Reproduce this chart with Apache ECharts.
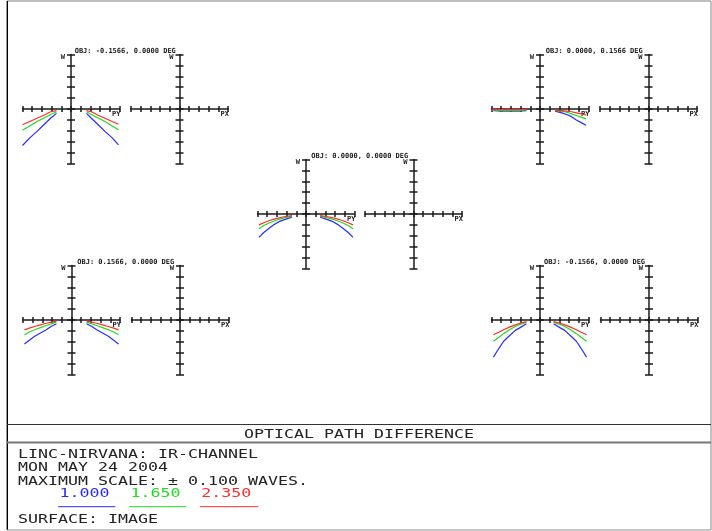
<!DOCTYPE html>
<html>
<head>
<meta charset="utf-8">
<script src="https://cdn.jsdelivr.net/npm/echarts@6/dist/echarts.min.js"></script>
<style>
  html, body { margin: 0; padding: 0; background: #fff; }
  #chart { width: 712px; height: 531px; }
</style>
</head>
<body>
<div id="chart"></div>
<script>
// OPD fans (PY pupil coordinate vs. wavefront error in waves).
// null splits the two branches on either side of the central obstruction.
const fieldTitles = [
  'OBJ: -0.1566, 0.0000 DEG',
  'OBJ: 0.0000, 0.1566 DEG',
  'OBJ: 0.0000, 0.0000 DEG',
  'OBJ: 0.1566, 0.0000 DEG',
  'OBJ: -0.1566, 0.0000 DEG'
];
const wavelengths = ['1.000', '1.650', '2.350'];
const maxScale = 0.1;

const f1Blue = [[-1.00,-0.067],[-0.85,-0.053],[-0.70,-0.041],[-0.55,-0.028],[-0.42,-0.017],[-0.30,-0.008], null,
                [0.32,-0.008],[0.42,-0.017],[0.55,-0.028],[0.70,-0.041],[0.85,-0.053],[0.98,-0.066]];
const f1Green = [[-1.00,-0.039],[-0.85,-0.031],[-0.70,-0.023],[-0.55,-0.016],[-0.42,-0.010],[-0.30,-0.005], null,
                 [0.32,-0.005],[0.42,-0.010],[0.55,-0.016],[0.70,-0.023],[0.85,-0.031],[0.98,-0.038]];
const f1Red = [[-1.00,-0.029],[-0.85,-0.023],[-0.70,-0.017],[-0.55,-0.011],[-0.42,-0.005],[-0.30,-0.003], null,
               [0.32,-0.003],[0.42,-0.005],[0.55,-0.011],[0.70,-0.017],[0.85,-0.023],[0.98,-0.028]];

const f2Blue = [[-1.00,0.004],[-0.95,-0.003],[-0.80,-0.004],[-0.60,-0.004],[-0.45,-0.004],[-0.28,-0.003], null,
                [0.31,-0.004],[0.45,-0.007],[0.55,-0.010],[0.65,-0.014],[0.75,-0.020],[0.85,-0.025],[0.95,-0.030]];
const f2Green = [[-0.98,-0.002],[-0.80,-0.003],[-0.60,-0.003],[-0.45,-0.003],[-0.28,-0.002], null,
                 [0.31,-0.003],[0.45,-0.004],[0.55,-0.006],[0.65,-0.009],[0.75,-0.012],[0.85,-0.015],[0.95,-0.018]];
const f2Red = [[-1.00,-0.001],[-0.80,-0.001],[-0.60,-0.001],[-0.45,-0.001],[-0.28,-0.001], null,
               [0.31,-0.002],[0.45,-0.003],[0.55,-0.004],[0.65,-0.005],[0.75,-0.007],[0.85,-0.009],[0.95,-0.011]];

const f3Blue = [[-0.97,-0.043],[-0.87,-0.034],[-0.76,-0.026],[-0.65,-0.019],[-0.53,-0.013],[-0.40,-0.009],[-0.29,-0.006], null,
                [0.29,-0.006],[0.40,-0.009],[0.53,-0.013],[0.65,-0.019],[0.76,-0.026],[0.87,-0.034],[0.97,-0.043]];
const f3Green = [[-0.97,-0.027],[-0.87,-0.021],[-0.75,-0.016],[-0.60,-0.011],[-0.45,-0.007],[-0.29,-0.004], null,
                 [0.29,-0.004],[0.45,-0.007],[0.60,-0.011],[0.75,-0.016],[0.87,-0.021],[0.97,-0.027]];
const f3Red = [[-0.97,-0.020],[-0.87,-0.016],[-0.75,-0.012],[-0.60,-0.008],[-0.45,-0.005],[-0.29,-0.003], null,
               [0.29,-0.003],[0.45,-0.005],[0.60,-0.008],[0.75,-0.012],[0.87,-0.016],[0.97,-0.020]];

const f4Blue = [[-0.97,-0.044],[-0.87,-0.037],[-0.76,-0.030],[-0.64,-0.024],[-0.52,-0.018],[-0.42,-0.012],[-0.31,-0.007], null,
                [0.31,-0.007],[0.42,-0.012],[0.52,-0.018],[0.64,-0.024],[0.76,-0.030],[0.87,-0.037],[0.97,-0.044]];
const f4Green = [[-0.97,-0.027],[-0.87,-0.022],[-0.76,-0.018],[-0.64,-0.014],[-0.52,-0.010],[-0.42,-0.007],[-0.31,-0.004], null,
                 [0.31,-0.004],[0.42,-0.007],[0.52,-0.010],[0.64,-0.014],[0.76,-0.018],[0.87,-0.022],[0.97,-0.027]];
const f4Red = [[-0.97,-0.018],[-0.87,-0.015],[-0.76,-0.012],[-0.64,-0.009],[-0.52,-0.006],[-0.42,-0.004],[-0.31,-0.002], null,
               [0.31,-0.002],[0.42,-0.004],[0.52,-0.006],[0.64,-0.009],[0.76,-0.012],[0.87,-0.015],[0.97,-0.018]];

const f5Blue = [[-0.96,-0.068],[-0.84,-0.051],[-0.75,-0.039],[-0.63,-0.029],[-0.51,-0.019],[-0.41,-0.014],[-0.28,-0.007], null,
                [0.28,-0.007],[0.41,-0.014],[0.51,-0.019],[0.63,-0.029],[0.75,-0.039],[0.84,-0.051],[0.96,-0.068]];
const f5Green = [[-0.96,-0.039],[-0.84,-0.031],[-0.75,-0.025],[-0.63,-0.018],[-0.51,-0.012],[-0.41,-0.008],[-0.28,-0.004], null,
                 [0.28,-0.004],[0.41,-0.008],[0.51,-0.012],[0.63,-0.018],[0.75,-0.025],[0.84,-0.031],[0.96,-0.039]];
const f5Red = [[-0.96,-0.027],[-0.84,-0.022],[-0.75,-0.018],[-0.63,-0.013],[-0.51,-0.009],[-0.41,-0.006],[-0.28,-0.003], null,
               [0.28,-0.003],[0.41,-0.006],[0.51,-0.009],[0.63,-0.013],[0.75,-0.018],[0.84,-0.022],[0.96,-0.027]];

const fieldCurves = [
  [f1Blue, f1Green, f1Red],
  [f2Blue, f2Green, f2Red],
  [f3Blue, f3Green, f3Red],
  [f4Blue, f4Green, f4Red],
  [f5Blue, f5Green, f5Red]
];

// ---- layout / styling ----
const COLORS = ['#2a2aff', '#1fdd1f', '#ff2a2a'];
const INK = '#1a1a1a';
const MONO = '"DejaVu Sans Mono", "Liberation Mono", monospace';
const HW = 48.5, HH = 54.5;
// centre of the PY chart, centre of the PX chart, shared axis height
const panels = [
  { cx: 71,  cx2: 179.5, cy: 109 },
  { cx: 540, cx2: 648.5, cy: 109 },
  { cx: 306, cx2: 413.5, cy: 214 },
  { cx: 71.5, cx2: 180,  cy: 320 },
  { cx: 540, cx2: 649,   cy: 320 }
];

const grids = [], xAxes = [], yAxes = [], series = [], graphics = [];
const axisLineStyle = { color: INK, width: 1.5 };
const nameStyle = { fontFamily: MONO, fontSize: 7, fontWeight: 'bold', color: INK };

function addChart(cx, cy, xName) {
  const g = grids.length;
  grids.push({ left: cx - HW, top: cy - HH, width: 2 * HW, height: 2 * HH,
               outerBoundsMode: 'none', containLabel: false });
  const common = { gridIndex: g, type: 'value', axisLabel: { show: false }, splitLine: { show: false } };
  const xi = xAxes.length, yi = yAxes.length;
  // horizontal pupil axis: two copies so the ticks cross the line
  xAxes.push(Object.assign({}, common, {
    min: -1, max: 1, interval: 0.2, position: 'bottom', offset: -HH,
    axisLine: { show: true, onZero: false, lineStyle: axisLineStyle },
    axisTick: { show: true, length: 3, lineStyle: axisLineStyle },
    name: xName, nameLocation: 'end', nameGap: 1,
    nameTextStyle: Object.assign({ align: 'right', verticalAlign: 'top', padding: [2, 0, 0, 0] }, nameStyle)
  }));
  xAxes.push(Object.assign({}, common, {
    min: -1, max: 1, interval: 0.2, position: 'top', offset: -HH,
    axisLine: { show: false, onZero: false },
    axisTick: { show: true, length: 3, lineStyle: axisLineStyle }
  }));
  // vertical OPD axis, +/- maximum scale
  yAxes.push(Object.assign({}, common, {
    min: -maxScale, max: maxScale, interval: 0.02, position: 'left', offset: -HW,
    axisLine: { show: true, onZero: false, lineStyle: axisLineStyle },
    axisTick: { show: true, length: 4, lineStyle: axisLineStyle },
    name: 'W', nameLocation: 'end', nameGap: -3,
    nameTextStyle: Object.assign({ align: 'right', verticalAlign: 'middle', padding: [0, 6, 0, 0] }, nameStyle)
  }));
  yAxes.push(Object.assign({}, common, {
    min: -maxScale, max: maxScale, interval: 0.02, position: 'right', offset: -HW,
    axisLine: { show: false, onZero: false },
    axisTick: { show: true, length: 4, lineStyle: axisLineStyle }
  }));
  return { xi, yi };
}

function addCurve(data, color, name, xi, yi) {
  let seg = [];
  const flush = () => {
    if (seg.length) {
      series.push({
        type: 'line', name, xAxisIndex: xi, yAxisIndex: yi, data: seg,
        symbol: 'none', silent: true, animation: false, clip: false,
        lineStyle: { color, width: 1.2 }, itemStyle: { color }
      });
    }
    seg = [];
  };
  data.forEach(p => (p === null ? flush() : seg.push(p)));
  flush();
}

panels.forEach((p, i) => {
  const py = addChart(p.cx, p.cy, 'PY');
  addChart(p.cx2, p.cy, 'PX');
  fieldCurves[i].forEach((curve, w) => addCurve(curve, COLORS[w], wavelengths[w], py.xi, py.yi));
  graphics.push({
    type: 'text', x: (p.cx + p.cx2) / 2, y: p.cy - 58, silent: true,
    style: { text: fieldTitles[i], font: 'bold 7px ' + MONO, fill: INK, align: 'center', verticalAlign: 'middle' }
  });
});

// ---- frame and caption block ----
function hline(x1, x2, y, color, width) {
  return { type: 'line', silent: true, shape: { x1, y1: y, x2, y2: y }, style: { stroke: color, lineWidth: width } };
}
function vline(x, y1, y2, color, width) {
  return { type: 'line', silent: true, shape: { x1: x, y1, x2: x, y2 }, style: { stroke: color, lineWidth: width } };
}
const SX = 1.384;
function caption(text, x, y, color, align) {
  return { type: 'text', x, y, scaleX: SX, silent: true,
           style: { text, font: '12px ' + MONO, fill: color || '#222', align: align || 'left', verticalAlign: 'middle' } };
}

graphics.push(
  hline(7, 711, 1, '#808080', 1.2),
  vline(7.3, 1, 530, '#000', 1.4),
  vline(711, 1, 530, '#9a9a9a', 1.2),
  hline(7, 711, 530, '#8a8a8a', 1.2),
  hline(7, 711, 424.5, '#333', 1),
  hline(7, 711, 442.5, '#777', 2),
  caption('OPTICAL PATH DIFFERENCE', 359, 434.5, '#222', 'center'),
  caption('LINC-NIRVANA: IR-CHANNEL', 18, 455),
  caption('MON MAY 24 2004', 18, 468),
  caption('MAXIMUM SCALE: \u00B1 0.100 WAVES.', 18, 481.7),
  caption(wavelengths[0], 59.6, 494, COLORS[0]),
  caption(wavelengths[1], 130.4, 494, COLORS[1]),
  caption(wavelengths[2], 201.2, 494, COLORS[2]),
  hline(58.2, 115.3, 506.7, COLORS[0], 1),
  hline(129, 186, 506.7, COLORS[1], 1),
  hline(199.9, 258.4, 506.7, COLORS[2], 1),
  caption('SURFACE: IMAGE', 18, 520)
);

const chart = echarts.init(document.getElementById('chart'), null, { renderer: 'canvas' });
chart.setOption({
  animation: false,
  backgroundColor: '#ffffff',
  grid: grids,
  xAxis: xAxes,
  yAxis: yAxes,
  series: series,
  graphic: graphics
});
</script>
</body>
</html>
